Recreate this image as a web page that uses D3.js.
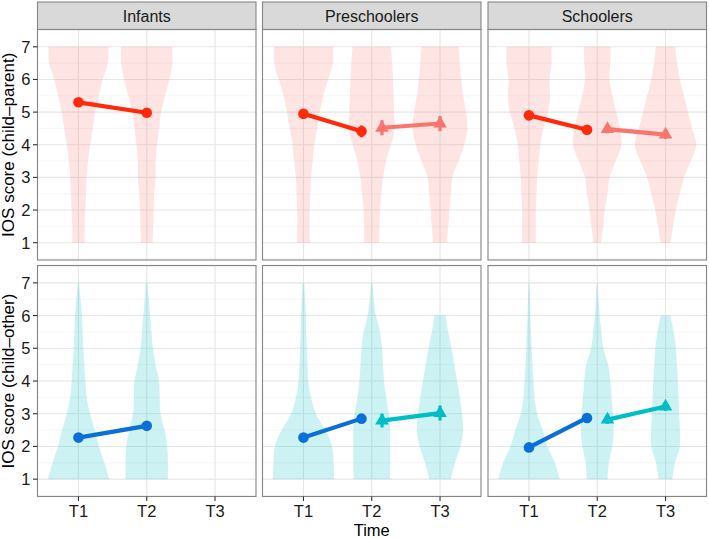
<!DOCTYPE html>
<html>
<head>
<meta charset="utf-8">
<script src="https://cdn.jsdelivr.net/npm/d3@7"></script>
<style>
  html, body { margin: 0; padding: 0; background: #fff; }
  svg { display: block; }
  text { font-family: "Liberation Sans", Arial, Helvetica, sans-serif; }
</style>
</head>
<body>
<svg id="chart" width="709" height="538"></svg>
<script>
// ---------------- DATA ----------------
const groups = ["Infants", "Preschoolers", "Schoolers"];
const timeLevels = ["T1", "T2", "T3"];
const yTicks = [1, 2, 3, 4, 5, 6, 7];
const rowTitles = ["IOS score (child\u2013parent)", "IOS score (child\u2013other)"];
const xTitle = "Time";

// density levels (score values) at which violin half-widths are read
const densityLevels = [1, 1.5, 2, 2.5, 3, 3.5, 4, 4.5, 5, 5.5, 6, 6.5, 7];

// Violin half-widths (in x-category units) for child-parent, per group: [T1, T2, T3]
const parentInfantsViolins = [
  [0.09, 0.09, 0.10, 0.11, 0.12, 0.14, 0.17, 0.21, 0.245, 0.30, 0.355, 0.43, 0.44],
  [0.085, 0.095, 0.10, 0.11, 0.13, 0.13, 0.15, 0.18, 0.21, 0.27, 0.33, 0.375, 0.37]
];
const parentPreschoolersViolins = [
  [0.093, 0.09, 0.09, 0.10, 0.11, 0.135, 0.16, 0.20, 0.24, 0.29, 0.36, 0.43, 0.43],
  [0.11, 0.115, 0.12, 0.14, 0.165, 0.21, 0.28, 0.335, 0.325, 0.32, 0.31, 0.30, 0.28],
  [0.10, 0.12, 0.135, 0.16, 0.18, 0.27, 0.355, 0.40, 0.38, 0.34, 0.31, 0.29, 0.27]
];
const parentSchoolersViolins = [
  [0.10, 0.10, 0.10, 0.11, 0.12, 0.14, 0.165, 0.21, 0.28, 0.31, 0.30, 0.33, 0.33],
  [0.055, 0.085, 0.11, 0.15, 0.18, 0.27, 0.355, 0.33, 0.28, 0.22, 0.18, 0.19, 0.20],
  [0.07, 0.11, 0.15, 0.21, 0.27, 0.37, 0.45, 0.39, 0.33, 0.27, 0.21, 0.17, 0.14]
];
// child-other
const otherInfantsViolins = [
  [0.45, 0.38, 0.30, 0.24, 0.17, 0.12, 0.10, 0.085, 0.07, 0.06, 0.05, 0.03, 0.01],
  [0.31, 0.31, 0.30, 0.26, 0.20, 0.19, 0.18, 0.13, 0.09, 0.07, 0.05, 0.03, 0.01]
];
const otherPreschoolersViolins = [
  [0.45, 0.44, 0.42, 0.32, 0.18, 0.11, 0.07, 0.06, 0.05, 0.04, 0.035, 0.025, 0.01],
  [0.265, 0.27, 0.27, 0.27, 0.25, 0.21, 0.18, 0.165, 0.15, 0.12, 0.06, 0.03, 0.01],
  [0.16, 0.22, 0.30, 0.34, 0.32, 0.29, 0.25, 0.21, 0.17, 0.12, 0.08]
];
const otherSchoolersViolins = [
  [0.45, 0.38, 0.27, 0.20, 0.12, 0.08, 0.065, 0.05, 0.04, 0.03, 0.02, 0.015, 0.005],
  [0.15, 0.17, 0.22, 0.24, 0.23, 0.21, 0.19, 0.16, 0.09, 0.06, 0.035, 0.02, 0.005],
  [0.10, 0.14, 0.21, 0.21, 0.20, 0.19, 0.18, 0.165, 0.15, 0.12, 0.07]
];

// Means (T1 -> T2 cohort: circles) and (T2 -> T3 cohort: triangles)
const parentMeansT1T2 = [[5.30, 4.98], [4.95, 4.41], [4.90, 4.46]];
const parentMeansT2T3 = [null, [4.52, 4.65], [4.48, 4.31]];
const parentSeT1T2 = [[0.12, 0.12], [0.14, 0.18], [0.10, 0.11]];
const parentSeT2T3 = [null, [0.23, 0.23], [0.13, 0.13]];

const otherMeansT1T2 = [[2.27, 2.63], [2.27, 2.85], [1.97, 2.87]];
const otherMeansT2T3 = [null, [2.79, 3.02], [2.82, 3.22]];
const otherSeT1T2 = [[0.12, 0.12], [0.12, 0.13], [0.11, 0.12]];
const otherSeT2T3 = [null, [0.21, 0.23], [0.13, 0.13]];

// ---------------- LAYOUT / STYLE ----------------
const panelLeft = [37.5, 262.5, 488];
const panelW = 218.5;
const rows = [
  { y0: 29.5, y1: 260, violins: [parentInfantsViolins, parentPreschoolersViolins, parentSchoolersViolins],
    meansA: parentMeansT1T2, meansB: parentMeansT2T3, seA: parentSeT1T2, seB: parentSeT2T3,
    violinFill: "#F8766D", colA: "#FF2A0A", colB: "#F8766D", title: rowTitles[0] },
  { y0: 265.5, y1: 496.5, violins: [otherInfantsViolins, otherPreschoolersViolins, otherSchoolersViolins],
    meansA: otherMeansT1T2, meansB: otherMeansT2T3, seA: otherSeT1T2, seB: otherSeT2T3,
    violinFill: "#00BFC4", colA: "#0A6FD6", colB: "#00BFC4", title: rowTitles[1] }
];
const dodge = 0.15;
const textCol = "#1a1a1a";
const borderCol = "#858585";

const svg = d3.select("#chart");

// strips
groups.forEach((g, gi) => {
  svg.append("rect")
    .attr("x", panelLeft[gi]).attr("y", 2)
    .attr("width", panelW).attr("height", 27.5)
    .attr("fill", "#D9D9D9").attr("stroke", borderCol).attr("stroke-width", 1.1);
  svg.append("text")
    .attr("x", panelLeft[gi] + panelW / 2).attr("y", 21.5)
    .attr("text-anchor", "middle").attr("font-size", 16).attr("fill", textCol)
    .text(g);
});

rows.forEach((row, ri) => {
  const y = d3.scaleLinear().domain([0.47, 7.53]).range([row.y1, row.y0]);

  groups.forEach((g, gi) => {
    const x = d3.scalePoint().domain(timeLevels).range([panelLeft[gi], panelLeft[gi] + panelW]).padding(0.6);
    const step = x.step();
    const gp = svg.append("g");

    gp.append("rect").attr("x", panelLeft[gi]).attr("y", row.y0)
      .attr("width", panelW).attr("height", row.y1 - row.y0).attr("fill", "#fff");

    const minor = d3.range(0.5, 7.6, 1).filter(v => v > 0.47 && v < 7.53);
    gp.selectAll(".mg").data(minor).join("line")
      .attr("x1", panelLeft[gi]).attr("x2", panelLeft[gi] + panelW)
      .attr("y1", d => y(d)).attr("y2", d => y(d))
      .attr("stroke", "#F2F2F2").attr("stroke-width", 0.7);
    gp.selectAll(".yg").data(yTicks).join("line")
      .attr("x1", panelLeft[gi]).attr("x2", panelLeft[gi] + panelW)
      .attr("y1", d => y(d)).attr("y2", d => y(d))
      .attr("stroke", "#E6E6E6").attr("stroke-width", 1.1);
    gp.selectAll(".xg").data(timeLevels).join("line")
      .attr("x1", d => x(d)).attr("x2", d => x(d))
      .attr("y1", row.y0).attr("y2", row.y1)
      .attr("stroke", "#E6E6E6").attr("stroke-width", 1.1);

    const vset = row.violins[gi];
    vset.forEach((hw, ti) => {
      const cx = x(timeLevels[ti]);
      const pts = hw.map((w, i) => ({ v: densityLevels[i], w: w }));
      const area = d3.area()
        .y(d => y(d.v))
        .x0(d => cx - d.w * step)
        .x1(d => cx + d.w * step)
        .curve(d3.curveCatmullRom.alpha(0.5));
      gp.append("path").attr("d", area(pts))
        .attr("fill", row.violinFill).attr("fill-opacity", 0.2).attr("stroke", "none");
    });

    const mA = row.meansA[gi];
    const sA = row.seA[gi];
    const xsA = [x("T1"), x("T2") - (row.meansB[gi] ? dodge * step : 0)];
    const ptsA = mA.map((m, i) => ({ x: xsA[i], m: m, se: sA[i] }));
    gp.selectAll(".ebA").data(ptsA).join("line")
      .attr("x1", d => d.x).attr("x2", d => d.x)
      .attr("y1", d => y(d.m - d.se)).attr("y2", d => y(d.m + d.se))
      .attr("stroke", row.colA).attr("stroke-width", 3.2);
    gp.append("path").attr("d", d3.line().x(d => d.x).y(d => y(d.m))(ptsA))
      .attr("stroke", row.colA).attr("stroke-width", 4.2).attr("fill", "none");
    gp.selectAll(".ptA").data(ptsA).join("circle")
      .attr("cx", d => d.x).attr("cy", d => y(d.m)).attr("r", 5.3)
      .attr("fill", row.colA);

    const mB = row.meansB[gi];
    if (mB) {
      const sB = row.seB[gi];
      const xsB = [x("T2") + dodge * step, x("T3")];
      const ptsB = mB.map((m, i) => ({ x: xsB[i], m: m, se: sB[i] }));
      gp.selectAll(".ebB").data(ptsB).join("line")
        .attr("x1", d => d.x).attr("x2", d => d.x)
        .attr("y1", d => y(d.m - d.se)).attr("y2", d => y(d.m + d.se))
        .attr("stroke", row.colB).attr("stroke-width", 3.2);
      gp.append("path").attr("d", d3.line().x(d => d.x).y(d => y(d.m))(ptsB))
        .attr("stroke", row.colB).attr("stroke-width", 4.2).attr("fill", "none");
      const tri = d3.symbol().type(d3.symbolTriangle).size(80);
      gp.selectAll(".ptB").data(ptsB).join("path")
        .attr("d", tri)
        .attr("transform", d => `translate(${d.x},${y(d.m)})`)
        .attr("fill", row.colB);
    }

    gp.append("rect").attr("x", panelLeft[gi]).attr("y", row.y0)
      .attr("width", panelW).attr("height", row.y1 - row.y0)
      .attr("fill", "none").attr("stroke", borderCol).attr("stroke-width", 1.1);

    if (ri === 1) {
      gp.selectAll(".xt").data(timeLevels).join("line")
        .attr("x1", d => x(d)).attr("x2", d => x(d))
        .attr("y1", row.y1).attr("y2", row.y1 + 4.5)
        .attr("stroke", "#333").attr("stroke-width", 1.1);
      gp.selectAll(".xl").data(timeLevels).join("text")
        .attr("x", d => x(d)).attr("y", 516.5)
        .attr("text-anchor", "middle").attr("font-size", 16.5).attr("fill", textCol)
        .text(d => d);
    }
    if (gi === 0) {
      gp.selectAll(".yt").data(yTicks).join("line")
        .attr("x1", panelLeft[0] - 4.5).attr("x2", panelLeft[0])
        .attr("y1", d => y(d)).attr("y2", d => y(d))
        .attr("stroke", "#333").attr("stroke-width", 1.1);
      gp.selectAll(".yl").data(yTicks).join("text")
        .attr("x", panelLeft[0] - 7).attr("y", d => y(d)).attr("dy", "0.36em")
        .attr("text-anchor", "end").attr("font-size", 16.5).attr("fill", textCol)
        .text(d => d);
    }
  });

  const yc = (row.y0 + row.y1) / 2;
  svg.append("text")
    .attr("transform", `translate(14,${yc}) rotate(-90)`)
    .attr("text-anchor", "middle").attr("font-size", 17).attr("fill", "#000")
    .text(row.title);
});

svg.append("text")
  .attr("x", panelLeft[1] + panelW / 2).attr("y", 536)
  .attr("text-anchor", "middle").attr("font-size", 16.5).attr("fill", "#000")
  .text(xTitle);
</script>
</body>
</html>
